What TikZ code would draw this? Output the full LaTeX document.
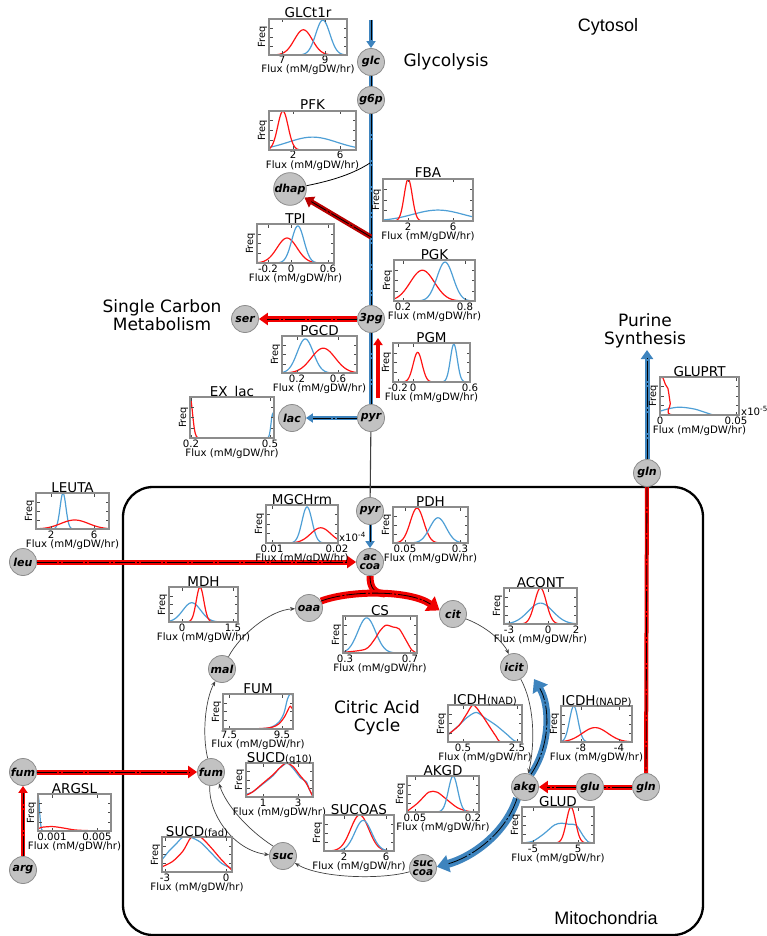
\documentclass[tikz,border=0pt]{standalone}
\usepackage{fontspec}
\setmainfont{DejaVu Sans}
\newfontfamily\arialf{Liberation Sans}
\usetikzlibrary{arrows.meta}
\pgfdeclarelayer{bg}
\pgfsetlayers{bg,main}
\definecolor{nodefill}{RGB}{194,194,194}
\definecolor{nodeline}{RGB}{140,140,140}
\definecolor{fred}{RGB}{240,0,0}
\definecolor{fdred}{RGB}{185,0,0}
\definecolor{fblue}{RGB}{62,132,190}
\definecolor{cred}{RGB}{255,20,20}
\definecolor{cblue}{RGB}{78,159,214}
\definecolor{frame}{RGB}{140,140,140}
\newcommand{\smallt}{\fontsize{10}{12}\selectfont}
\newcommand{\gss}[4]{\draw[#1] plot[domain=0:1, samples=80, smooth] (\x,{(#4)*exp(-min((((\x)-(#2))/(#3))^2/2,9))});}
\newcommand{\flx}[3]{\draw[#1] #2; \draw[core, shorten >=#3] #2;}
\newcommand{\fluxplot}[8]{%
  \pgfmathsetmacro\pw{#4-#2}%
  \pgfmathsetmacro\ph{#5-#3}%
  \pgfmathsetmacro\pcx{(#2+#4)/2}%
  \pgfmathsetmacro\pcy{(#3+#5)/2}%
  \fill[white] (#2,#3) rectangle (#4,#5);
  \begin{scope}[shift={(#2,#5)}, x=\pw pt, y=\ph pt]
    \clip (0,0) rectangle (1,1);
    #8
  \end{scope}
  \foreach \tkx/\tkl in {#7} {%
    \draw[ptick] (\tkx,#5) -- ++(0,-3.5);
    \draw[ptick] (\tkx,#3) -- ++(0,3.5);
    \node[ticklab] (#1-\tkx) at (\tkx,#5+9) {\tkl};
  }
  \foreach \fy in {0.25,0.5,0.75} {%
    \draw[ptick] (#2,#3+\fy*\ph) -- ++(3.5,0);
    \draw[ptick] (#4,#3+\fy*\ph) -- ++(-3.5,0);
  }
  \draw[pframe] (#2,#3) rectangle (#4,#5);
  \node[ptitle] (#1-t) at (\pcx,#3-1) {#6};
  \node[freqlab] (#1-f) at (#2-6.5,\pcy) {Freq};
  \node[fluxlab] (#1-x) at (\pcx,#5+18) {Flux (mM/gDW/hr)};
}
\begin{document}
\begin{tikzpicture}[x=1pt, y=-1pt,
  met/.style={circle, minimum size=27pt, inner sep=0pt, fill=nodefill, draw=nodeline, line width=0.8pt, align=center, font=\fontsize{11}{8.5}\selectfont\bfseries\itshape},
  met2/.style={met, font=\fontsize{10.5}{9.5}\selectfont\bfseries\itshape},
  head/.style={font=\fontsize{17}{18}\selectfont, align=center, inner sep=0pt},
  pframe/.style={draw=frame, line width=1.1pt},
  ptick/.style={draw=black!70, line width=0.5pt},
  ptitle/.style={font=\fontsize{13.5}{15}\selectfont, inner sep=0pt, anchor=base},
  ticklab/.style={font=\fontsize{10.2}{11}\selectfont, inner sep=0pt, anchor=base},
  fluxlab/.style={font=\fontsize{10.2}{11}\selectfont, inner sep=0pt, anchor=base},
  freqlab/.style={font=\fontsize{9.8}{10}\selectfont, inner sep=0pt, rotate=90},
  rc/.style={draw=cred, line width=1.2pt},
  bc/.style={draw=cblue, line width=1.2pt},
  core/.style={draw=black, line width=0.8pt, dash pattern=on 20pt off 2pt on 2pt off 2pt},
  fr/.style={draw=fred}, fb/.style={draw=fblue}, fd/.style={draw=fdred},
  tipS/.style={-{Triangle[length=7pt,width=9pt]}},
  tipM/.style={-{Triangle[length=9pt,width=12pt]}},
  tipL/.style={-{Triangle[length=12pt,width=17pt]}},
  thinarr/.style={draw=black!75, line width=0.7pt, -{Stealth[length=5pt,width=4pt]}}
]
\useasboundingbox (0,0) rectangle (767,936);

% metabolites
\node[met] (glc) at (371,62) {glc};
\node[met] (g6p) at (371,100) {g6p};
\node[met] (dhap) at (290,189) {dhap};
\node[met] (pgthree) at (371,319) {3pg};
\node[met] (ser) at (245,319) {ser};
\node[met] (pyr) at (371,418) {pyr};
\node[met] (lac) at (292,418) {lac};
\node[met] (glnC) at (647,473) {gln};
\node[met] (leu) at (23,562) {leu};
\node[met] (pyrM) at (370,511) {pyr};
\node[met2] (accoa) at (370,562) {ac\\coa};
\node[met] (oaa) at (309,608) {oaa};
\node[met] (cit) at (453,614) {cit};
\node[met] (icit) at (514,667) {icit};
\node[met] (akg) at (525,787) {akg};
\node[met] (glu) at (590,787) {glu};
\node[met] (glnM) at (646,787) {gln};
\node[met] (mal) at (222,669) {mal};
\node[met] (fumM) at (211,772) {fum};
\node[met] (suc) at (283,856) {suc};
\node[met2] (succoa) at (423,868) {suc\\coa};
\node[met] (fumC) at (23,772) {fum};
\node[met] (arg) at (23,870) {arg};

\coordinate (glcin) at (371,20);
\coordinate (fbaJ) at (370,163);
\coordinate (tpiJ) at (371,237);
\coordinate (pgmA) at (378,398);
\coordinate (pgmB) at (378,338);
\coordinate (purT) at (647,350);
\coordinate (csJ) at (385,594);
\coordinate (icitB) at (534,679);

% headings
\node[head] (glyco) at (446,62) {Glycolysis};
\node[head] (scm) at (162,315) {Single Carbon\\Metabolism};
\node[head] (purine) at (645,331) {Purine\\Synthesis};
\node[head] (tca) at (377,718) {Citric Acid\\Cycle};
\node[font=\arialf\fontsize{18}{20}\selectfont, inner sep=0pt] (cyto) at (608,27) {Cytosol};
\node[font=\arialf\fontsize{18}{20}\selectfont, inner sep=0pt] (mito) at (606,918) {Mitochondria};

\begin{pgfonlayer}{bg}
\draw[line width=2.3pt, rounded corners=30pt] (123,487) rectangle (703,935);
\draw[line width=1.1pt, draw=black!75] (pyr) -- (pyrM);
\flx{fb, line width=4pt, tipS}{(glcin) -- (glc)}{7pt}
\flx{fb, line width=4.5pt}{(glc) -- (g6p)}{0pt}
\flx{fb, line width=4.5pt}{(g6p) -- (pgthree)}{0pt}
\flx{fb, line width=4.5pt}{(pgthree) -- (pyr)}{0pt}
\draw[line width=0.8pt] (fbaJ) .. controls (350,176) and (325,182) .. (dhap);
\flx{fd, line width=5pt, tipM}{(tpiJ) -- (dhap)}{8pt}
\flx{fr, line width=6pt, tipM}{(pgthree) -- (ser)}{8pt}
\flx{fb, line width=4pt, tipS}{(pyr) -- (lac)}{7pt}
\draw[fr, line width=4pt, tipS] (pgmA) -- (pgmB);
\flx{fb, line width=5pt, tipM}{(glnC) -- (purT)}{8pt}
\flx{fr, line width=4pt}{(glnC) -- (glnM)}{0pt}
\flx{fr, line width=5pt}{(glnM) -- (glu)}{0pt}
\flx{fr, line width=5pt, tipM}{(glu) -- (akg)}{8pt}
\flx{fr, line width=5pt, tipM}{(leu) -- (accoa)}{8pt}
\flx{fb, line width=3pt, tipS}{(pyrM) -- (accoa)}{6pt}
\flx{fr, line width=7pt}{(accoa) .. controls (370,588) and (374,593) .. (csJ)}{0pt}
\flx{fr, line width=7pt, tipL}{(oaa.30) .. controls (350,590) and (410,590) .. (cit.165)}{11pt}
\flx{fb, line width=7pt, tipL}{(akg.65) .. controls (551,745) and (550,705) .. (icitB)}{11pt}
\flx{fb, line width=8pt, tipL}{(akg.-125) .. controls (505,835) and (470,858) .. (succoa.5)}{11pt}
\flx{fr, line width=5pt, tipM}{(fumC) -- (fumM)}{8pt}
\flx{fr, line width=4pt, tipS}{(arg) -- (fumC)}{7pt}
% thin cycle arcs
\draw[thinarr] (cit) .. controls (490,628) and (505,645) .. (icit);
\draw[thinarr] (icit) .. controls (535,705) and (535,745) .. (akg);
\draw[thinarr] (succoa) .. controls (380,880) and (320,878) .. (suc);
\draw[thinarr] (fumM.-95) .. controls (208,812) and (232,850) .. (suc.175);
\draw[thinarr] (suc.135) .. controls (248,830) and (226,805) .. (fumM.-55);
\draw[thinarr] (fumM) .. controls (202,735) and (205,700) .. (mal);
\draw[thinarr] (mal) .. controls (240,635) and (270,610) .. (oaa);
\end{pgfonlayer}

% flux distribution plots
\fluxplot{glct}{269}{19}{347}{55}{GLCt1r}{282/7,325/9}{\gss{rc}{0.44}{0.115}{0.7}\gss{bc}{0.69}{0.09}{0.97}}
\fluxplot{pfk}{269}{111}{356}{150}{PFK}{293/2,340/6}{\gss{bc}{0.5}{0.28}{0.33}\gss{rc}{0.16}{0.06}{1.0}}
\fluxplot{fba}{383}{179}{473}{221}{FBA}{408/2,453/6}{\gss{bc}{0.61}{0.28}{0.26}\gss{rc}{0.28}{0.045}{1.0}}
\fluxplot{tpi}{257}{224}{334}{263}{TPI}{268/-0.2,291/0,328/0.6}{\gss{rc}{0.39}{0.13}{0.64}\gss{bc}{0.53}{0.08}{0.95}}
\fluxplot{pgk}{394}{260}{475}{301}{PGK}{403/0.2,465/0.8}{\gss{rc}{0.35}{0.15}{0.75}\gss{bc}{0.63}{0.1}{0.95}}
\fluxplot{pgcd}{282}{336}{357}{373}{PGCD}{297/0.2,338/0.6}{\gss{bc}{0.31}{0.107}{0.92}\gss{rc}{0.55}{0.16}{0.67}}
\fluxplot{pgm}{393}{343}{470}{382}{PGM}{398/-0.2,413/0,470/0.6}{\gss{rc}{0.32}{0.058}{0.76}\gss{bc}{0.79}{0.045}{0.97}}
\fluxplot{exlac}{190}{397}{274}{438}{EX\hspace{7pt}lac}{191/0.2,270/0.5}{\gss{rc}{0}{0.03}{1.0}\gss{bc}{0.985}{0.02}{0.6}}
\fluxplot{gluprt}{660}{377}{739}{415}{GLUPRT}{660/0,736/0.05}{%
  \draw[bc] plot[smooth] coordinates {(0,0.1) (0.1,0.16) (0.2,0.2) (0.3,0.2) (0.45,0.15) (0.6,0.05) (0.7,0) (1,0)};
  \draw[rc] plot[smooth, tension=0.5] coordinates {(0,0.95) (0.03,1.0) (0.07,0.8) (0.1,0.7) (0.13,0.3) (0.16,0) (1,0)};}
\node[ticklab, anchor=west] (gluprt-e) at (741,411) {x10\textsuperscript{-5}};
\fluxplot{leuta}{36}{493}{109}{529}{LEUTA}{51/2,94/6}{\gss{bc}{0.37}{0.04}{1.0}\gss{rc}{0.53}{0.19}{0.25}}
\fluxplot{mgch}{266}{505}{338}{543}{MGCHrm}{272/0.01,337/0.02}{\gss{bc}{0.57}{0.07}{0.95}\gss{rc}{0.76}{0.14}{0.4}}
\node[ticklab, anchor=west] (mgch-e) at (339,537) {x10\textsuperscript{-4}};
\fluxplot{pdh}{393}{507}{468}{543}{PDH}{405/0.05,460/0.3}{\gss{rc}{0.32}{0.09}{0.97}\gss{bc}{0.6}{0.11}{0.7}}
\fluxplot{acont}{504}{588}{577}{624}{ACONT}{509/-3,548/0,576/2}{\gss{bc}{0.5}{0.17}{0.58}\gss{rc}{0.5}{0.08}{1.0}}
\fluxplot{mdh}{169}{587}{238}{622}{MDH}{182/0,233/1.5}{\gss{bc}{0.33}{0.13}{0.55}\gss{rc}{0.45}{0.055}{1.0}}
\fluxplot{cs}{343}{616}{417}{653}{CS}{345/0.3,410/0.7}{\gss{bc}{0.32}{0.12}{0.95}%
  \draw[rc] plot[smooth] coordinates {(0,0.02) (0.3,0.1) (0.42,0.35) (0.5,0.6) (0.58,0.75) (0.68,0.7) (0.76,0.65) (0.85,0.35) (0.93,0.08) (1,0)};}
\fluxplot{fum}{223}{694}{293}{729}{FUM}{229/7.5,282/9.5}{%
  \draw[bc] plot[smooth] coordinates {(0,0) (0.55,0.01) (0.7,0.06) (0.8,0.2) (0.87,0.45) (0.92,0.85) (0.96,1.0) (1,0.95)};
  \draw[rc] plot[smooth] coordinates {(0,0) (0.5,0.01) (0.7,0.05) (0.8,0.15) (0.88,0.35) (0.93,0.55) (0.96,0.65) (1,0.55)};}
\fluxplot{icdhnad}{448}{705}{522}{742}{ICDH{\smallt(NAD)}}{463/0.5,517/2.5}{%
  \draw[bc] plot[smooth] coordinates {(0,0.2) (0.12,0.4) (0.25,0.65) (0.38,0.8) (0.5,0.65) (0.65,0.45) (0.8,0.2) (0.9,0.03) (1,0)};
  \draw[rc] plot[smooth] coordinates {(0,0.2) (0.15,0.45) (0.25,0.75) (0.34,1.0) (0.45,0.75) (0.55,0.45) (0.65,0.15) (0.72,0) (1,0)};}
\fluxplot{icdhnadp}{561}{706}{632}{742}{ICDH{\smallt(NADP)}}{581/-8,619/-4}{\gss{bc}{0.18}{0.06}{1.0}\gss{rc}{0.48}{0.18}{0.4}}
\fluxplot{glud}{522}{807}{594}{843}{GLUD}{533/-5,578/5}{%
  \draw[bc] plot[smooth] coordinates {(0,0) (0.15,0.05) (0.3,0.25) (0.45,0.5) (0.55,0.55) (0.65,0.52) (0.75,0.5) (0.85,0.2) (0.92,0.03) (1,0)};
  \gss{rc}{0.68}{0.063}{1.0}}
\fluxplot{sucdq}{246}{763}{313}{797}{SUCD{\smallt(q10)}}{263/1,298/3}{%
  \draw[bc] plot[smooth] coordinates {(0,0.08) (0.1,0.15) (0.25,0.38) (0.4,0.62) (0.5,0.85) (0.55,0.92) (0.62,1.0) (0.72,0.8) (0.82,0.55) (0.9,0.45) (0.95,0.2) (1,0.02)};
  \draw[rc] plot[smooth] coordinates {(0,0.05) (0.1,0.15) (0.25,0.4) (0.4,0.65) (0.5,0.85) (0.6,1.0) (0.7,0.9) (0.8,0.65) (0.9,0.4) (1,0)};}
\fluxplot{sucoas}{324}{815}{394}{851}{SUCOAS}{344/2,386/6}{\gss{rc}{0.51}{0.13}{1.0}\gss{bc}{0.56}{0.12}{0.85}}
\fluxplot{akgd}{407}{776}{479}{812}{AKGD}{415/0.05,473/0.2}{%
  \draw[rc] plot[smooth] coordinates {(0,0.02) (0.15,0.25) (0.3,0.55) (0.42,0.55) (0.55,0.35) (0.7,0.12) (0.85,0.02) (1,0)};
  \gss{bc}{0.64}{0.065}{1.0}}
\fluxplot{sucdf}{162}{837}{232}{872}{SUCD{\smallt(fad)}}{165/-3,226/0}{%
  \draw[bc] plot[smooth] coordinates {(0,0.35) (0.1,0.6) (0.2,0.8) (0.3,1.0) (0.4,1.0) (0.55,0.85) (0.7,0.55) (0.85,0.25) (1,0.1)};
  \draw[rc] plot[smooth] coordinates {(0,0.15) (0.15,0.3) (0.3,0.6) (0.42,1.0) (0.55,1.0) (0.7,0.7) (0.85,0.35) (1,0.05)};}
\fluxplot{argsl}{38}{794}{111}{831}{ARGSL}{52/0.001,97/0.005}{%
  \gss{bc}{0}{0.02}{1.0}
  \draw[rc] plot[smooth] coordinates {(0,0.05) (0.05,0.1) (0.2,0.12) (0.35,0.08) (0.5,0.03) (0.7,0.01) (1,0)};}
\end{tikzpicture}
\end{document}
